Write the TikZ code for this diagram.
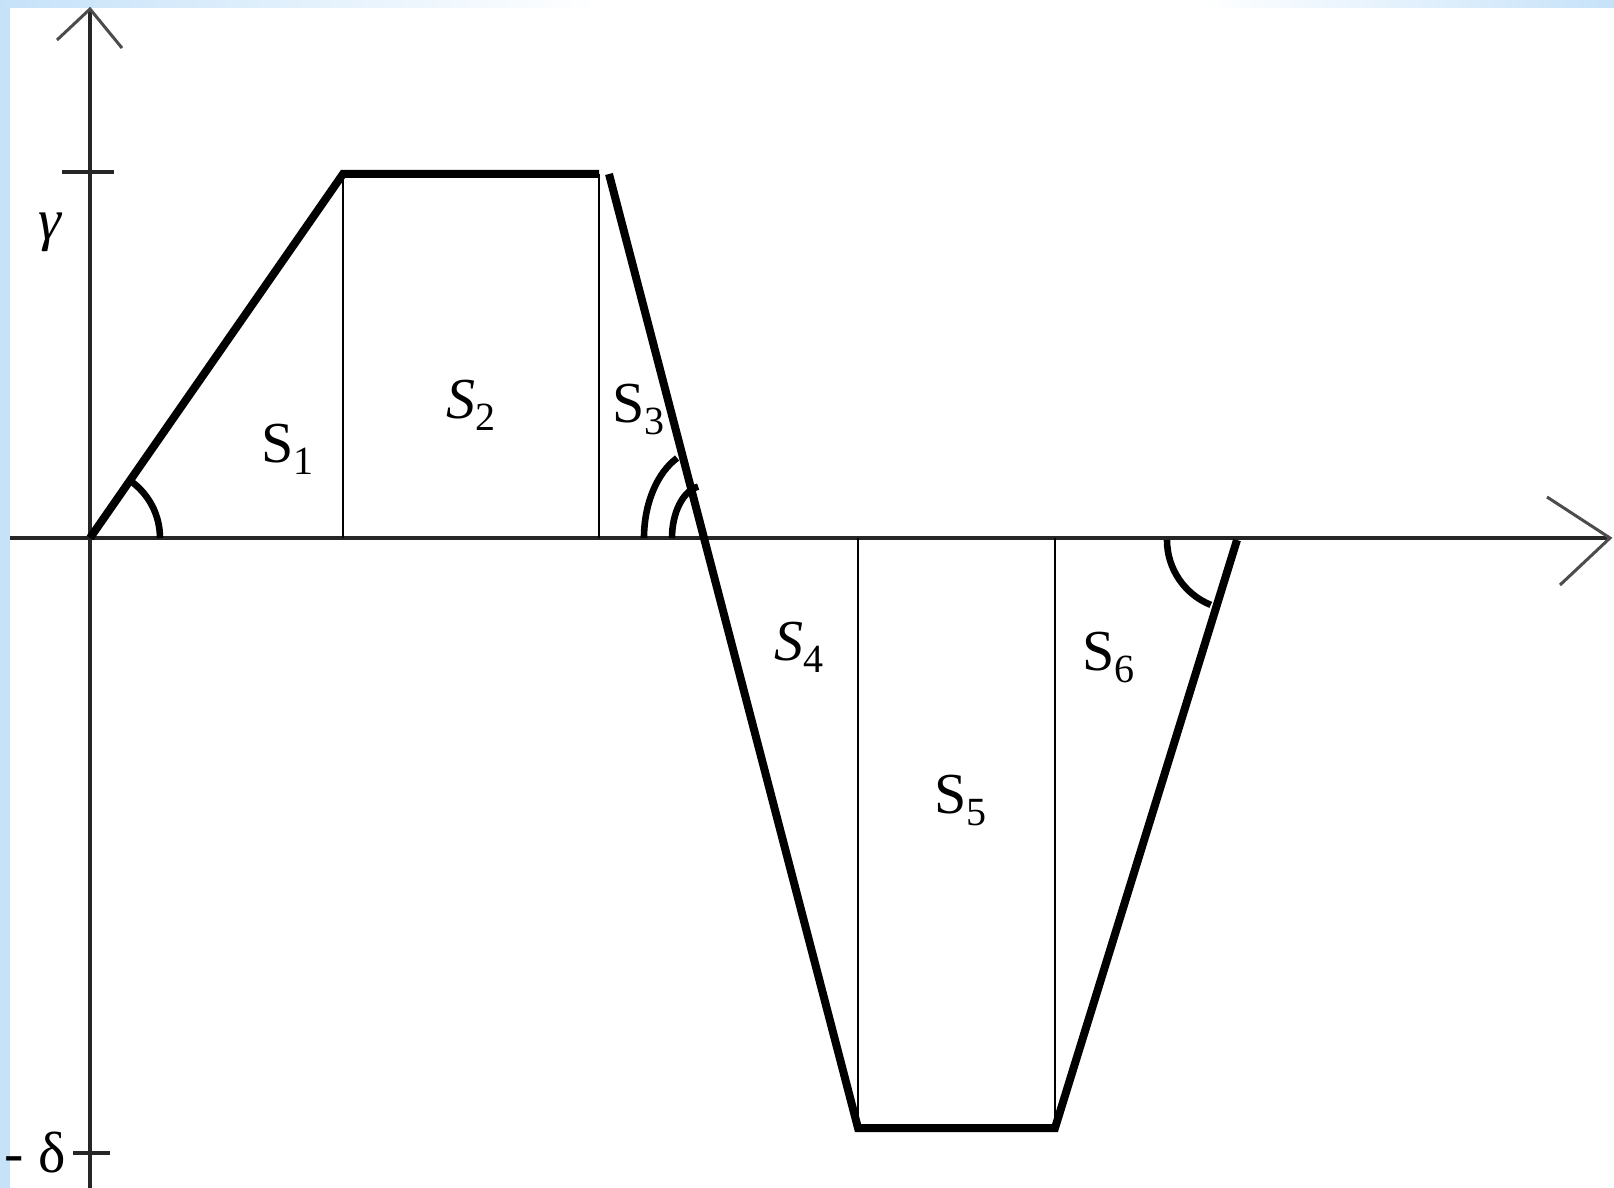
\documentclass[tikz,border=0pt]{standalone}
\usepackage{fontspec}
\setmainfont{Liberation Serif}
\definecolor{edgeblue}{HTML}{C6E2F9}
\newcommand{\subs}[1]{\raisebox{-6pt}{\fontsize{20}{20}\selectfont #1}}
\begin{document}
\begin{tikzpicture}[x=0.5pt,y=-0.5pt,
  thickline/.style={line width=4pt, line join=miter},
  thinline/.style={line width=1.1pt},
  axisline/.style={line width=1.7pt, black!85},
  armline/.style={line width=1.5pt, black!70},
  anglearc/.style={line width=3.3pt},
  lbl/.style={inner sep=0pt, anchor=base west, font=\fontsize{29}{29}\selectfont}]
\useasboundingbox (0,0) rectangle (1614,1188);
% background border
\fill[white] (0,0) rectangle (1614,1188);
\fill[edgeblue] (0,0) rectangle (10,1188);
\shade[left color=edgeblue, right color=white] (0,0) rectangle (600,8);
\shade[left color=white, right color=edgeblue] (1200,0) rectangle (1614,8);
% coordinates
\coordinate (O) at (90,538);
\coordinate (ytop) at (90,9);
\coordinate (ybot) at (90,1188);
\coordinate (xl) at (10,538);
\coordinate (xr) at (1610,538);
\coordinate (ya1) at (57,40);
\coordinate (ya2) at (122,48);
\coordinate (xa1) at (1547,497);
\coordinate (xa2) at (1560,585);
\coordinate (tg1) at (62,172);
\coordinate (tg2) at (114,172);
\coordinate (td1) at (73,1153);
\coordinate (td2) at (110,1153);
\coordinate (A) at (343,174);
\coordinate (B) at (599,174);
\coordinate (C) at (609,174);
\coordinate (X) at (703,538);
\coordinate (D) at (858,1128);
\coordinate (E) at (1055,1128);
\coordinate (F) at (1237,540);
\coordinate (Ab) at (343,538);
\coordinate (Bb) at (599,538);
\coordinate (Dt) at (858,538);
\coordinate (Et) at (1055,538);
% axes
\draw[axisline] (xl) -- (xr);
\draw[axisline] (ybot) -- (ytop);
\draw[armline] (ya1) -- (ytop) -- (ya2);
\draw[armline] (xa1) -- (xr) -- (xa2);
\draw[axisline] (tg1) -- (tg2);
\draw[axisline] (td1) -- (td2);
% thin verticals
\draw[thinline] (A) -- (Ab);
\draw[thinline] (B) -- (Bb);
\draw[thinline] (Dt) -- (D);
\draw[thinline] (Et) -- (E);
% thick curve
\draw[thickline] (O) -- (A) -- (B);
\draw[thickline] (C) -- (D) -- (E) -- (F);
% angle arcs
\draw[anglearc] (O) ++(35pt,0pt) arc[start angle=0, end angle=55, radius=35pt];
\draw[anglearc] (F) ++(-35pt,0pt) arc[start angle=180, end angle=248, radius=35pt];
\draw[anglearc] (X) ++(-29.5pt,0pt) arc[start angle=180, end angle=116, x radius=29.5pt, y radius=44.5pt];
\draw[anglearc] (X) ++(-15.5pt,0pt) arc[start angle=180, end angle=99, x radius=15.5pt, y radius=26pt];
% labels
\node[lbl] (s1) at (261,462) {S\subs{1}};
\node[lbl] (s2) at (446,418) {\itshape S\subs{\upshape 2}};
\node[lbl] (s3) at (612,422) {S\subs{3}};
\node[lbl] (s4) at (774,660) {\itshape S\subs{\upshape 4}};
\node[lbl] (s5) at (934,813) {S\subs{5}};
\node[lbl] (s6) at (1082,670) {S\subs{6}};
\node[lbl] (gam) at (38,240) {\itshape γ};
\node[lbl] (del) at (4,1172) {- δ};
\end{tikzpicture}
\end{document}
